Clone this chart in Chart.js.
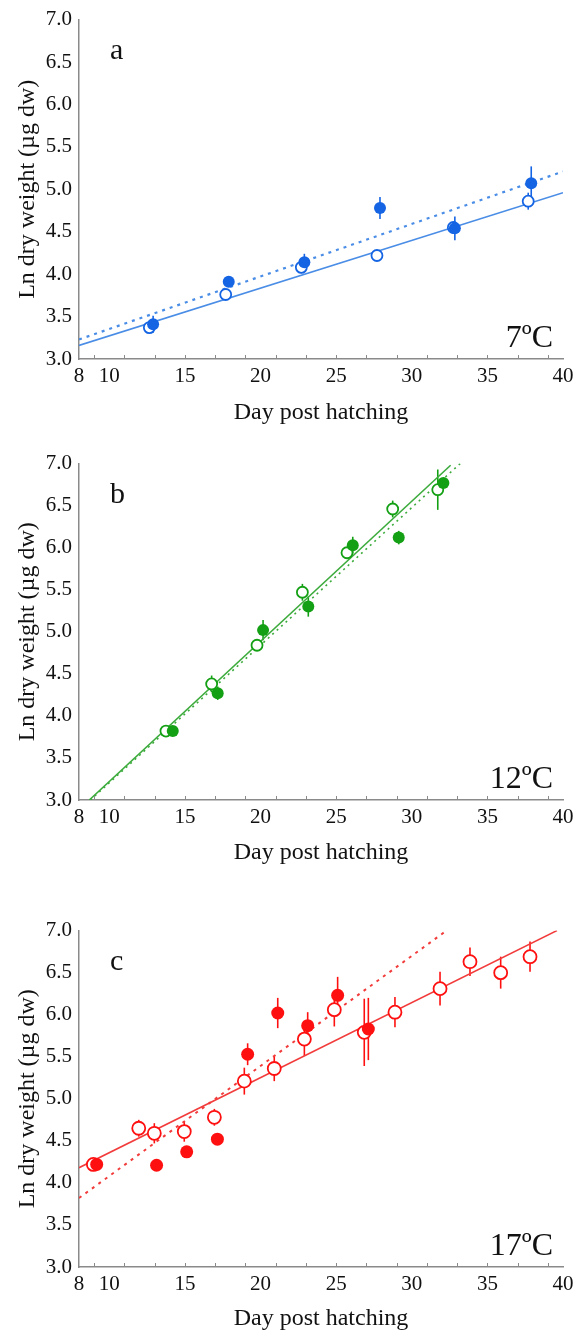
<!DOCTYPE html>
<html>
<head>
<meta charset="utf-8">
<script src="https://cdn.jsdelivr.net/npm/chart.js@4.4.0/dist/chart.umd.min.js"></script>
<style>
  body { margin: 0; background: #fff; width: 574px; height: 1336px; position: relative; overflow: hidden; }
  .panel { position: absolute; left: 0; width: 590px; }
</style>
</head>
<body>
<div class="panel" style="top:0;height:430px"><canvas id="chartA"></canvas></div>
<div class="panel" style="top:444px;height:426px"><canvas id="chartB"></canvas></div>
<div class="panel" style="top:911px;height:425px"><canvas id="chartC"></canvas></div>

<script>
// axis ticks
const xTickLabels = [8, 10, 15, 20, 25, 30, 35, 40];
const xMinorTicks = [9, 11, 13, 15, 17, 19, 21, 23, 25, 27, 29, 31, 33, 35, 37, 39];

// a - 7ºC
const dayOpenA = [12.65, 17.7, 22.7, 27.7, 32.75, 37.7];
const lnOpenA = [3.37, 3.76, 4.08, 4.22, 4.55, 4.86];
const errOpenA = [0.03, 0.05, 0.07, 0.03, 0.05, 0.1];
const dayFilledA = [12.9, 17.9, 22.9, 27.9, 32.85, 37.9];
const lnFilledA = [3.41, 3.91, 4.14, 4.78, 4.54, 5.07];
const errFilledA = [0.1, 0.05, 0.1, 0.13, 0.14, 0.2];
const fitSolidDaysA = [8, 40];
const fitSolidA = [3.16, 4.96];
const fitDotDaysA = [8, 40];
const fitDotA = [3.23, 5.21];

// b - 12ºC
const dayOpenB = [13.75, 16.77, 19.77, 22.77, 25.72, 28.74, 31.72];
const lnOpenB = [3.82, 4.38, 4.84, 5.47, 5.94, 6.46, 6.69];
const errOpenB = [0.02, 0.1, 0.04, 0.1, 0.05, 0.1, 0.24];
const dayFilledB = [14.2, 17.17, 20.17, 23.16, 26.1, 29.14, 32.09];
const lnFilledB = [3.82, 4.27, 5.02, 5.30, 6.03, 6.12, 6.77];
const errFilledB = [0.02, 0.08, 0.12, 0.12, 0.1, 0.08, 0.05];
const fitSolidDaysB = [8.68, 32.57];
const fitSolidB = [3.0, 6.98];
const fitDotDaysB = [8.75, 33.2];
const fitDotB = [3.0, 7.0];

// c - 17ºC
const dayOpenC = [8.95, 11.95, 12.98, 14.96, 16.95, 18.93, 20.91, 22.9, 24.88, 26.86, 28.89, 31.87, 33.85, 35.88, 37.82];
const lnOpenC = [4.22, 4.65, 4.59, 4.61, 4.78, 5.21, 5.36, 5.71, 6.06, 5.79, 6.03, 6.31, 6.63, 6.50, 6.69];
const errOpenC = [0.02, 0.1, 0.12, 0.12, 0.1, 0.16, 0.15, 0.2, 0.2, 0.4, 0.18, 0.2, 0.17, 0.19, 0.18];
const dayFilledC = [9.17, 13.13, 15.12, 17.15, 19.15, 21.14, 23.12, 25.1, 27.13];
const lnFilledC = [4.22, 4.21, 4.37, 4.52, 5.53, 6.02, 5.87, 6.23, 5.83];
const errFilledC = [0.02, 0.02, 0.03, 0.06, 0.13, 0.18, 0.16, 0.22, 0.37];
const fitSolidDaysC = [8, 39.6];
const fitSolidC = [4.18, 7.0];
const fitDotDaysC = [8, 32.3];
const fitDotC = [3.82, 7.0];

const SERIF = '"Liberation Serif", "Times New Roman", serif';

function pts(xs, ys) {
    return xs.map((x, i) => ({ x: x, y: ys[i] }));
}

// barras de error (detrás de los puntos)
const errorBars = {
    id: 'errorBars',
    beforeDatasetsDraw(chart) {
        const ctx = chart.ctx;
        const xs = chart.scales.x, ys = chart.scales.y;
        chart.data.datasets.forEach(ds => {
            if (!ds.errors) return;
            ctx.save();
            ctx.strokeStyle = ds.borderColor;
            ctx.lineWidth = 1.6;
            ds.data.forEach((p, i) => {
                const e = ds.errors[i];
                const px = xs.getPixelForValue(p.x);
                ctx.beginPath();
                ctx.moveTo(px, ys.getPixelForValue(p.y - e));
                ctx.lineTo(px, ys.getPixelForValue(p.y + e));
                ctx.stroke();
            });
            ctx.restore();
        });
    }
};

// marcas pequeñas del eje x + etiquetas de panel
const panelText = {
    id: 'panelText',
    afterDraw(chart, args, opts) {
        const ctx = chart.ctx;
        const area = chart.chartArea;
        const xs = chart.scales.x;
        ctx.save();
        ctx.strokeStyle = '#8a8a8a';
        ctx.lineWidth = 1;
        xMinorTicks.forEach(v => {
            const px = Math.round(xs.getPixelForValue(v)) + 0.5;
            ctx.beginPath();
            ctx.moveTo(px, area.bottom);
            ctx.lineTo(px, area.bottom - 4);
            ctx.stroke();
        });
        ctx.fillStyle = '#111';
        ctx.font = '30px ' + SERIF;
        ctx.textAlign = 'left';
        ctx.textBaseline = 'alphabetic';
        ctx.fillText(opts.letter, 110, area.top + 39);
        ctx.font = '32px ' + SERIF;
        ctx.textAlign = 'right';
        ctx.fillText(opts.temp, 553, area.bottom - 12);
        ctx.restore();
    }
};

function makePanel(id, p) {
    return new Chart(document.getElementById(id), {
        type: 'scatter',
        data: {
            datasets: [
                {
                    data: pts(p.dayFilled, p.lnFilled),
                    errors: p.errFilled,
                    backgroundColor: p.color,
                    borderColor: p.color,
                    pointRadius: p.filledR,
                    borderWidth: 0,
                    order: 1
                },
                {
                    data: pts(p.dayOpen, p.lnOpen),
                    errors: p.errOpen,
                    backgroundColor: '#ffffff',
                    borderColor: p.color,
                    pointRadius: p.openR,
                    borderWidth: 1.8,
                    order: 2
                },
                {
                    data: pts(p.solidDays, p.solid),
                    showLine: true,
                    borderColor: p.lineColor,
                    borderWidth: 1.6,
                    pointRadius: 0,
                    order: 3
                },
                {
                    data: pts(p.dotDays, p.dot),
                    showLine: true,
                    borderColor: p.lineColor,
                    borderWidth: p.dotW,
                    borderDash: p.dash,
                    pointRadius: 0,
                    order: 3
                }
            ]
        },
        options: {
            responsive: true,
            maintainAspectRatio: false,
            animation: false,
            layout: { padding: { top: 19, right: 27, left: 0, bottom: 0 } },
            plugins: {
                legend: { display: false },
                tooltip: { enabled: false },
                panelText: { letter: p.letter, temp: p.temp }
            },
            scales: {
                x: {
                    type: 'linear',
                    min: 8,
                    max: 40,
                    afterBuildTicks: axis => { axis.ticks = xTickLabels.map(v => ({ value: v })); },
                    afterFit: scale => { scale.height = p.xAxisH; },
                    grid: { display: false, drawTicks: false },
                    border: { display: true, color: '#8a8a8a', width: 1.5 },
                    ticks: { padding: 5, color: '#111', font: { family: SERIF, size: 21 }, maxRotation: 0, autoSkip: false },
                    title: { display: true, text: 'Day post hatching', color: '#111',
                             font: { family: SERIF, size: 24 }, padding: { top: 0, bottom: 3 } }
                },
                y: {
                    min: 3,
                    max: 7,
                    afterFit: scale => { scale.width = 79; },
                    grid: { display: false, drawTicks: false },
                    border: { display: true, color: '#8a8a8a', width: 1.5 },
                    ticks: { stepSize: 0.5, padding: 7, color: '#111', font: { family: SERIF, size: 21 },
                             callback: v => v.toFixed(1) },
                    title: { display: true, text: 'Ln dry weight (µg dw)', color: '#111',
                             font: { family: SERIF, size: 24 }, padding: { top: 13, bottom: 0 } }
                }
            }
        },
        plugins: [errorBars, panelText]
    });
}

document.addEventListener("DOMContentLoaded", function () {
    makePanel('chartA', {
        letter: 'a', temp: '7ºC', xAxisH: 71,
        color: '#1464e4', lineColor: '#4a8de6',
        dayOpen: dayOpenA, lnOpen: lnOpenA, errOpen: errOpenA,
        dayFilled: dayFilledA, lnFilled: lnFilledA, errFilled: errFilledA,
        solidDays: fitSolidDaysA, solid: fitSolidA, dotDays: fitDotDaysA, dot: fitDotA,
        openR: 5.5, filledR: 6, dotW: 2.2, dash: [3, 5]
    });
    makePanel('chartB', {
        letter: 'b', temp: '12ºC', xAxisH: 70,
        color: '#14a014', lineColor: '#3cab3c',
        dayOpen: dayOpenB, lnOpen: lnOpenB, errOpen: errOpenB,
        dayFilled: dayFilledB, lnFilled: lnFilledB, errFilled: errFilledB,
        solidDays: fitSolidDaysB, solid: fitSolidB, dotDays: fitDotDaysB, dot: fitDotB,
        openR: 5.5, filledR: 6, dotW: 1.6, dash: [2, 4]
    });
    makePanel('chartC', {
        letter: 'c', temp: '17ºC', xAxisH: 69,
        color: '#ff1010', lineColor: '#f23c3c',
        dayOpen: dayOpenC, lnOpen: lnOpenC, errOpen: errOpenC,
        dayFilled: dayFilledC, lnFilled: lnFilledC, errFilled: errFilledC,
        solidDays: fitSolidDaysC, solid: fitSolidC, dotDays: fitDotDaysC, dot: fitDotC,
        openR: 6.5, filledR: 6.5, dotW: 2, dash: [3, 5]
    });
});
</script>
</body>
</html>
